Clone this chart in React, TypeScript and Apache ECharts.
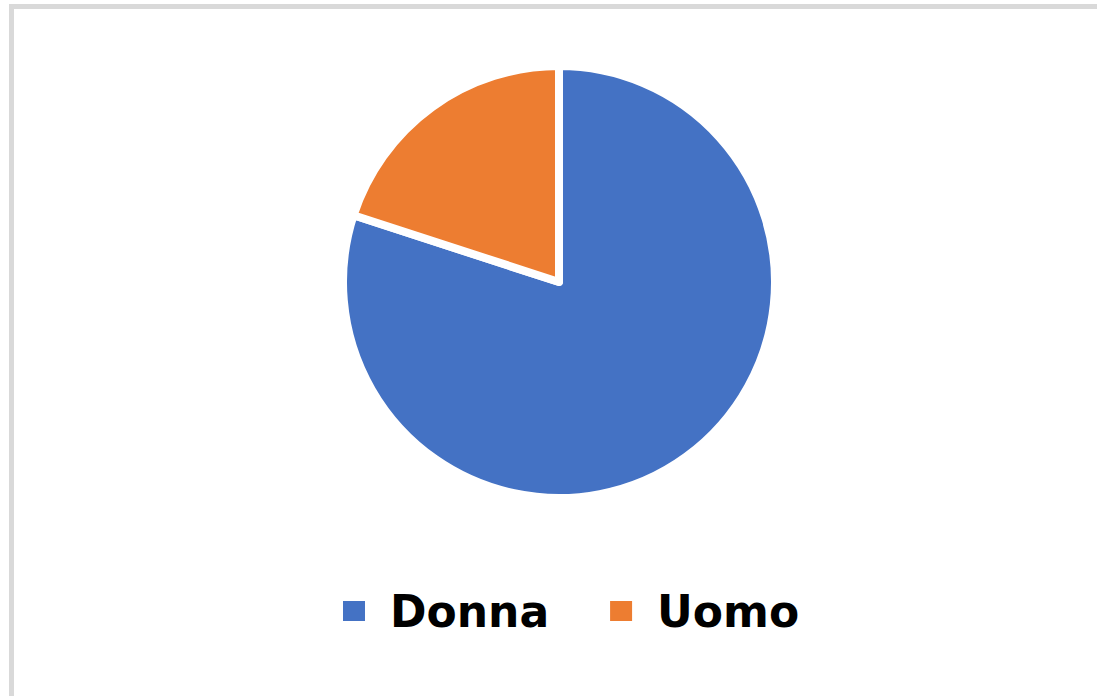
import React, { useEffect, useRef } from "react";
import * as echarts from "echarts";

const categories = ["Donna", "Uomo"];
const values = [80, 20];
const colors = ["#4472C4", "#ED7D31"];

export default function App() {
  const ref = useRef<HTMLDivElement>(null);
  useEffect(() => {
    if (!ref.current) return;
    const chart = echarts.init(ref.current, null, { renderer: "svg" });
    chart.setOption({
      animation: false,
      backgroundColor: "#ffffff",
      graphic: [
        {
          type: "rect",
          shape: { x: 11.5, y: 6.5, width: 1200, height: 800 },
          style: { fill: "none", stroke: "#d9d9d9", lineWidth: 5 },
          silent: true,
        },
      ],
      legend: {
        left: 341,
        top: 589,
        padding: 0,
        itemWidth: 24,
        itemHeight: 22,
        itemGap: 59,
        icon: "rect",
        data: categories,
        textStyle: {
          fontFamily: "DejaVu Sans",
          fontWeight: "bold",
          fontSize: 44,
          color: "#000000",
          padding: [0, 0, 0, 19],
        },
      },
      series: [
        {
          type: "pie",
          center: [559, 282],
          radius: [0, 216],
          startAngle: 90,
          clockwise: true,
          label: { show: false },
          labelLine: { show: false },
          itemStyle: { borderColor: "#ffffff", borderWidth: 8 },
          emphasis: { disabled: true },
          data: categories.map((c, i) => ({
            name: c,
            value: values[i],
            itemStyle: { color: colors[i] },
          })),
        },
      ],
    });
    return () => chart.dispose();
  }, []);
  return (
    <div
      ref={ref}
      style={{ position: "fixed", left: 0, top: 0, width: 1097, height: 696 }}
    />
  );
}
